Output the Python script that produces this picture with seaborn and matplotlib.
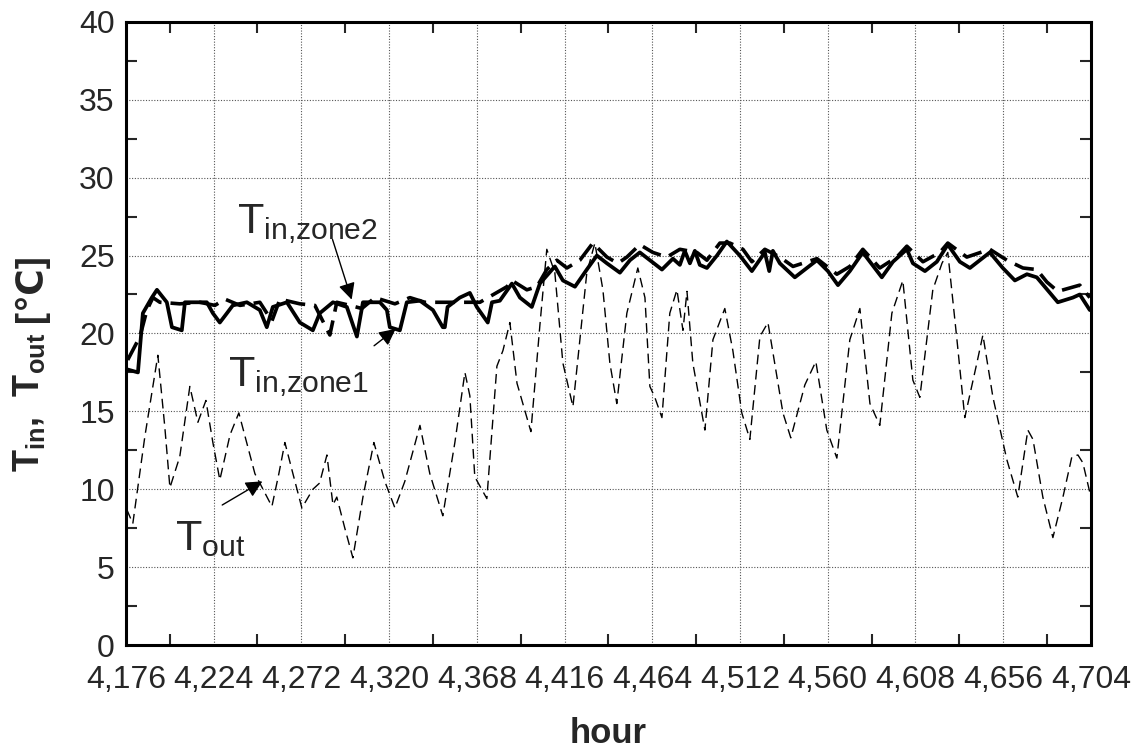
import matplotlib
matplotlib.use('Agg')
import matplotlib.pyplot as plt
import matplotlib.ticker as mticker
import seaborn as sns
import pandas as pd

# outdoor temperature (hour, degC)
tout_hour = [4176.5, 4179.8, 4186.4, 4193.5, 4197.3, 4200.1, 4205.5, 4211, 4215.4, 4219.8,
             4223.6, 4227.4, 4233, 4237.8, 4246.6, 4255.9, 4259.7, 4263, 4267.4, 4272.3,
             4278.3, 4282, 4286, 4289.3, 4291.4, 4295.8, 4300.2, 4305.7, 4311.7, 4317.7,
             4323.2, 4328.6, 4336.9, 4342.3, 4349.4, 4356, 4361.5, 4364.2, 4366.9, 4373.5,
             4379, 4382.3, 4386.1, 4390, 4395.4, 4397.6, 4402.5, 4406.3, 4410.7, 4415.1,
             4420.6, 4428.2, 4432.6, 4437, 4440.8, 4444.6, 4450.1, 4456.1, 4460, 4462.7,
             4465.4, 4469.3, 4473.6, 4477.5, 4480.8, 4483, 4486.2, 4492.8, 4497.2, 4503.7,
             4508.1, 4513, 4517.4, 4522.9, 4527.3, 4535.5, 4539.8, 4547.5, 4553.5, 4559.5,
             4565, 4572.1, 4577.6, 4583.1, 4588.5, 4595.1, 4601.1, 4606.6, 4610.4, 4617.5,
             4622.5, 4625.7, 4630.7, 4635, 4641.6, 4644.9, 4650.4, 4658, 4664, 4669.5,
             4672.3, 4677.7, 4683.2, 4688.7, 4693.6, 4696.9, 4699.6, 4703.4]
tout_val = [8.7, 7.8, 13.4, 18.6, 14.0, 10.1, 12.1, 16.6, 14.3, 15.7,
            13.0, 10.6, 13.5, 14.9, 11.0, 8.9, 11.0, 13.0, 11.0, 8.8,
            10.0, 10.4, 12.2, 9.0, 9.5, 7.5, 5.6, 9.5, 13.0, 10.5,
            8.8, 10.5, 14.1, 11.0, 8.3, 13.0, 17.5, 16.0, 10.8, 9.4,
            17.9, 18.9, 20.7, 16.8, 14.6, 13.7, 20.5, 25.4, 23.9, 18.1,
            15.3, 23.9, 25.8, 22.8, 18.1, 15.5, 21.3, 24.2, 22.3, 16.6,
            15.9, 14.6, 21.3, 22.8, 20.2, 22.7, 18.1, 13.8, 19.6, 21.6,
            18.9, 14.9, 13.2, 19.8, 20.7, 14.9, 13.3, 16.7, 18.2, 13.8,
            12.0, 19.6, 21.6, 15.5, 14.1, 21.3, 23.4, 17.0, 15.9, 22.8,
            24.5, 25.2, 19.6, 14.6, 18.1, 19.9, 15.9, 11.9, 9.5, 13.8,
            13.2, 9.5, 6.9, 9.5, 12.1, 12.2, 11.7, 9.8]

# indoor temperature, zone 1 (solid)
z1_hour = [4176.5, 4182.6, 4185.3, 4190.2, 4193, 4198.4, 4201.2, 4206.6, 4208.3, 4220.3,
           4223.6, 4227.4, 4231.3, 4234.5, 4242.2, 4249.3, 4253.1, 4256.4, 4264.1, 4271.2,
           4278.3, 4282.1, 4289.3, 4296.9, 4302.4, 4305.7, 4315, 4318.8, 4320.4, 4325.9,
           4329.7, 4336.9, 4344, 4349.4, 4350.5, 4352, 4358.7, 4364.2, 4368, 4374,
           4376.3, 4380.6, 4387.2, 4391.6, 4398.1, 4402.5, 4410.7, 4415.1, 4421.7, 4428.2,
           4433.7, 4439.2, 4446.3, 4451.8, 4457.2, 4462.7, 4469.3, 4475.3, 4479.1, 4481.8,
           4484.6, 4487.3, 4490, 4493.9, 4499.4, 4504.8, 4511.9, 4518.5, 4525.6, 4528,
           4530, 4533.8, 4542, 4554.1, 4560.1, 4565.6, 4572.1, 4579.2, 4583.1, 4589.6,
           4595.7, 4603.3, 4606.6, 4613.2, 4619.7, 4625.7, 4632.3, 4637.8, 4648.7, 4655.8,
           4662.4, 4669, 4674.4, 4681.6, 4685.9, 4694.1, 4697.9, 4703.4]
z1_val = [17.7, 17.5, 21.3, 22.3, 22.8, 22.0, 20.4, 20.2, 22.0, 22.0,
          21.3, 20.7, 21.3, 21.8, 22.0, 21.5, 20.4, 21.7, 22.0, 20.7,
          20.2, 21.3, 22.0, 21.7, 19.8, 22.0, 22.0, 21.5, 20.4, 20.2,
          22.0, 22.1, 21.5, 20.4, 20.4, 21.7, 22.3, 22.6, 21.7, 20.7,
          22.0, 22.1, 23.2, 22.3, 21.7, 23.2, 24.3, 23.4, 23.0, 24.1,
          25.0, 24.5, 23.9, 24.7, 25.2, 24.7, 24.1, 24.8, 24.4, 25.3,
          24.5, 25.3, 24.4, 24.2, 25.0, 25.9, 25.0, 24.0, 25.2, 24.0,
          25.3, 24.5, 23.6, 24.7, 24.0, 23.1, 24.0, 25.2, 24.6, 23.6,
          24.6, 25.4, 24.5, 24.0, 24.6, 25.7, 24.6, 24.2, 25.2, 24.2,
          23.4, 23.8, 23.6, 22.6, 22.0, 22.3, 22.5, 21.5]

# indoor temperature, zone 2 (thick dashed)
z2_hour = [4177, 4183.7, 4187.5, 4190.8, 4194.6, 4205.5, 4216.5, 4224.7, 4230.2, 4238.4,
           4249.3, 4255.9, 4260.3, 4271.2, 4279.4, 4287.6, 4291.4, 4298.6, 4305.1, 4312.3,
           4323.2, 4331.4, 4339.6, 4347.8, 4364.2, 4369.7, 4384.5, 4387.2, 4395.4, 4400.9,
           4406.3, 4411.8, 4417.3, 4424.4, 4431.5, 4439.2, 4445.2, 4450.1, 4457.2, 4464.3,
           4472, 4479.1, 4488.4, 4493.9, 4501, 4506.5, 4513.6, 4518.5, 4525.6, 4533.8,
           4541, 4554.1, 4565, 4572.1, 4579.2, 4588.5, 4597.8, 4603.3, 4612.1, 4621.4,
           4625.7, 4636.1, 4648.7, 4658, 4666.8, 4674.4, 4679.9, 4685.9, 4697.9, 4703.4]
z2_val = [18.3, 19.8, 21.5, 22.3, 22.0, 21.9, 22.0, 21.8, 22.2, 21.8,
          22.0, 20.8, 22.2, 21.9, 21.8, 19.9, 22.0, 21.8, 21.6, 22.3,
          21.9, 22.3, 22.0, 22.0, 22.0, 22.0, 23.0, 23.4, 22.8, 23.0,
          24.1, 24.7, 24.2, 24.7, 25.8, 24.9, 24.5, 24.9, 25.7, 25.2,
          24.9, 25.4, 25.2, 24.7, 25.8, 25.8, 25.4, 24.6, 25.4, 24.9,
          24.3, 24.8, 23.8, 24.3, 25.4, 24.2, 24.9, 25.6, 24.6, 25.2,
          25.8, 24.9, 25.4, 24.7, 24.2, 24.1, 23.3, 22.7, 23.1, 22.3]

x_ticks = list(range(4176, 4705, 48))
y_ticks = list(range(0, 41, 5))

sns.set_style('white')
plt.rcParams['font.family'] = ['Liberation Sans', 'DejaVu Sans']
plt.rcParams['mathtext.fontset'] = 'custom'
plt.rcParams['mathtext.rm'] = 'Liberation Sans'
plt.rcParams['mathtext.bf'] = 'Liberation Sans:bold'
plt.rcParams['mathtext.it'] = 'Liberation Sans:italic'

fig = plt.figure(figsize=(11.34, 7.51), dpi=100)
ax = fig.add_axes([0.111, 0.141, 0.851, 0.830])

df_out = pd.DataFrame({'hour': tout_hour, 'T': tout_val})
df_z1 = pd.DataFrame({'hour': z1_hour, 'T': z1_val})
df_z2 = pd.DataFrame({'hour': z2_hour, 'T': z2_val})

sns.lineplot(data=df_out, x='hour', y='T', ax=ax, color='black', lw=1.0,
             linestyle=(0, (7, 4)), sort=False)
sns.lineplot(data=df_z2, x='hour', y='T', ax=ax, color='black', lw=2.6,
             linestyle=(0, (5.5, 2.5)), sort=False)
sns.lineplot(data=df_z1, x='hour', y='T', ax=ax, color='black', lw=2.7,
             linestyle='-', sort=False)

ax.set_xlim(4176, 4704)
ax.set_ylim(0, 40)
ax.set_xticks(x_ticks)
ax.set_yticks(y_ticks)
ax.xaxis.set_minor_locator(mticker.MultipleLocator(24))
ax.yaxis.set_minor_locator(mticker.MultipleLocator(2.5))
ax.xaxis.set_major_formatter(mticker.FuncFormatter(lambda v, _: f'{int(v):,}'))
ax.tick_params(which='major', length=0, labelsize=23)
ax.tick_params(axis='x', which='major', pad=14)
ax.tick_params(axis='y', which='major', pad=8)
ax.tick_params(which='minor', direction='in', length=8, width=1.5,
               top=True, right=True, bottom=True, left=True)
ax.grid(True, which='major', color='#555555', linestyle=(0, (1, 1.5)), linewidth=0.8)
for s in ax.spines.values():
    s.set_color('black')
    s.set_linewidth(2.2)

ax.set_xlabel('hour', fontsize=25, fontweight='bold', labelpad=16)
# y label: subscripted part via mathtext, the bracketed unit added as plain text above it
ax.set_ylabel(r'$\mathbf{T_{in}{,}\ \ T_{out}}$', fontsize=26, fontweight='bold')
ax.yaxis.set_label_coords(-0.082, 0.39)
fig.canvas.draw()
bb = ax.yaxis.label.get_window_extent()
fig.text((bb.x0 + bb.x1) / 2 / fig.bbox.width + 0.002,
         bb.y1 / fig.bbox.height + 0.014, '[℃]', rotation=90, fontsize=26,
         fontweight='bold', ha='center', va='bottom',
         family=['Liberation Sans', 'DejaVu Sans'])

# curve labels with arrows
ax.text(4236.7, 26.45, r'$\mathrm{T_{in{,}zone2}}$', fontsize=31, va='baseline', ha='left')
ax.annotate('', xy=(4300, 22.0), xytext=(4288.6, 26.2),
            arrowprops=dict(arrowstyle='-|>', color='black', lw=1, mutation_scale=25))
ax.text(4231.8, 16.6, r'$\mathrm{T_{in{,}zone1}}$', fontsize=31, va='baseline', ha='left')
ax.annotate('', xy=(4324.8, 20.4), xytext=(4310.6, 19.1),
            arrowprops=dict(arrowstyle='-|>', color='black', lw=1, mutation_scale=25))
ax.text(4202.8, 6.1, r'$\mathrm{T_{out}}$', fontsize=31, va='baseline', ha='left')
ax.annotate('', xy=(4252, 10.6), xytext=(4227.4, 8.9),
            arrowprops=dict(arrowstyle='-|>', color='black', lw=1, mutation_scale=25))

fig.savefig('out.png', dpi=100)
